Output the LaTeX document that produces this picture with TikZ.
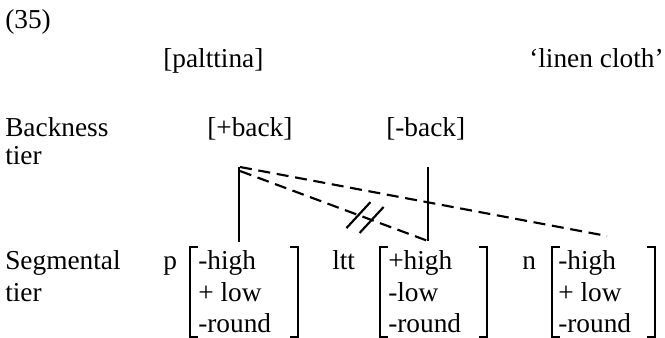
\documentclass[tikz,border=0pt]{standalone}
\usepackage{fontspec}
\setmainfont{Liberation Serif}
\usetikzlibrary{calc}
\begin{document}
\begin{tikzpicture}[x=0.75pt,y=-0.75pt,
  txt/.style={anchor=base west, inner sep=0pt, font=\fontsize{20.5}{24}\selectfont},
  assoc/.style={line width=1.6pt},
  delink/.style={line width=1.6pt, dash pattern=on 9pt off 5pt},
  brk/.style={line width=1.5pt},
  cut/.style={line width=1.6pt}]
\useasboundingbox (0,0) rectangle (665,338);

% heading
\node[txt] (num)   at (5,29)   {(35)};
\node[txt] (form)  at (163,68) {[palttina]};
\node[txt] (gloss) at (529,68) {‘linen cloth’};

% backness tier
\node[txt] (bk1) at (5,137) {Backness};
\node[txt] (bk2) at (5,165) {tier};
\node[txt] (pb)  at (207,137) {[+back]};
\node[txt] (mb)  at (386,137) {[-back]};

% segmental tier
\node[txt] (sg1) at (5,270) {Segmental};
\node[txt] (sg2) at (5,302) {tier};
\node[txt] (cp)   at (163,270) {p};
\node[txt] (cltt) at (332,270) {ltt};
\node[txt] (cn)   at (522,270) {n};

% feature matrices
\foreach \name/\x/\a/\b in {ma/198/-high/+ low, mb/388/+high/-low, mc/558/-high/+ low}{
  \node[txt] (\name1) at (\x,270) {\a};
  \node[txt] (\name2) at (\x,302) {\b};
  \node[txt] (\name3) at (\x,333) {-round};
}
\foreach \l/\r in {190/298, 380/487, 552/655}{
  \draw[brk] (\l+8,247) -- (\l,247) -- (\l,337) -- (\l+8,337);
  \draw[brk] (\r-8,247) -- (\r,247) -- (\r,337) -- (\r-8,337);
}

% association lines
\coordinate (pbt) at (239,167);
\coordinate (pbb) at (239,242);
\coordinate (mbt) at (428,167);
\coordinate (mbb) at (428,241);
\coordinate (nend) at (607,236);
\coordinate (s1) at (240,167);
\coordinate (s2) at (240,171);

\draw[assoc] (pbt) -- (pbb);
\draw[assoc] (mbt) -- (mbb);
\draw[delink] (s1) -- (nend);
\draw[delink] (s2) -- (mbb);

% delinking marks
\coordinate (c1) at ($(s2)!0.63!(mbb)$);
\coordinate (c2) at ($(s2)!0.70!(mbb)$);
\draw[cut] ($(c1)+(-12,13)$) -- ($(c1)+(12,-13)$);
\draw[cut] ($(c2)+(-12,13)$) -- ($(c2)+(12,-13)$);
\end{tikzpicture}
\end{document}
